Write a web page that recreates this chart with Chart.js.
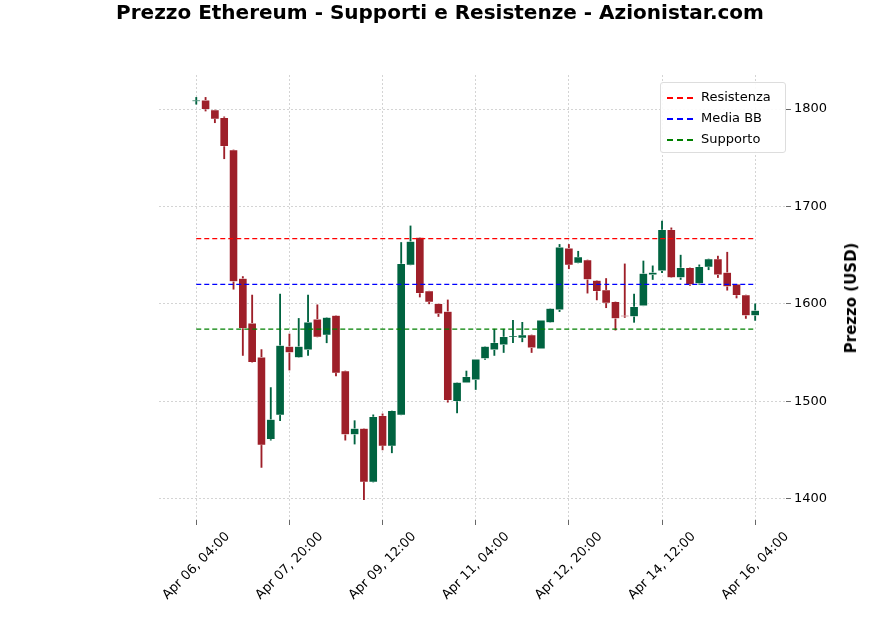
<!DOCTYPE html>
<html>
<head>
<meta charset="utf-8">
<script src="https://cdn.jsdelivr.net/npm/chart.js@4"></script>
<style>
  body { margin: 0; background: #fff; font-family: "DejaVu Sans", sans-serif; }
  #wrap { position: relative; width: 880px; height: 632px; }
  #title { position: absolute; left: 0; top: 0px; width: 880px; text-align: center; font-size: 20px; font-weight: bold; }
  #ytitle { position: absolute; left: 851px; top: 298px; transform: translate(-50%, -50%) rotate(-90deg); font-size: 15px; font-weight: bold; white-space: nowrap; }
  #legend { position: absolute; left: 660px; top: 82px; width: 124px; border: 1px solid #ddd; border-radius: 3px; background: rgba(255,255,255,0.9); padding: 3px 0; font-size: 13px; }
  #legend div { height: 21px; line-height: 21px; padding-left: 6px; }
  #legend span { display: inline-block; width: 26px; height: 0; vertical-align: middle; margin-right: 8px; }
</style>
</head>
<body>
<div id="wrap">
  <canvas id="c" width="880" height="632"></canvas>
  <div id="title">Prezzo Ethereum - Supporti e Resistenze - Azionistar.com</div>
  <div id="ytitle">Prezzo (USD)</div>
  <div id="legend">
    <div><span style="border-top:2px dashed red"></span>Resistenza</div>
    <div><span style="border-top:2px dashed blue"></span>Media BB</div>
    <div><span style="border-top:2px dashed green"></span>Supporto</div>
  </div>
</div>
<script>
// 4-hour candles, Apr 06 04:00 -> Apr 16 04:00
const opens  = [1808,1809,1799,1791,1758,1626,1580,1545,1461,1486,1556,1545,1553,1584,1568,1588,1531,1466,1472,1417,1485,1454,1486,1640,1668,1613,1600,1592,1500,1519,1522,1544,1553,1558,1566,1565,1568,1554,1581,1594,1657,1642,1645,1624,1614,1602,1588,1587,1598,1630,1634,1676,1627,1637,1621,1638,1646,1632,1620,1609,1588];
const highs  = [1812,1812,1799,1792,1758,1628,1609,1553,1514,1610,1569,1585,1609,1599,1586,1588,1531,1480,1472,1486,1487,1490,1663,1680,1668,1613,1600,1604,1519,1531,1543,1556,1574,1574,1583,1581,1568,1583,1595,1661,1661,1654,1645,1624,1626,1602,1641,1610,1644,1639,1685,1678,1650,1637,1640,1646,1649,1653,1620,1609,1600];
const lows   = [1805,1798,1786,1749,1615,1547,1540,1432,1460,1480,1532,1545,1547,1566,1560,1526,1460,1456,1399,1417,1450,1447,1486,1640,1607,1600,1587,1499,1488,1519,1512,1543,1547,1550,1560,1561,1550,1554,1581,1592,1636,1642,1611,1604,1596,1573,1586,1581,1598,1625,1632,1627,1625,1619,1620,1635,1627,1614,1606,1585,1583];
const closes = [1808,1800,1790,1762,1623,1575,1540,1455,1481,1557,1550,1556,1581,1566,1586,1529,1466,1472,1417,1484,1454,1490,1641,1664,1611,1602,1590,1501,1519,1525,1543,1556,1560,1566,1567,1568,1555,1583,1595,1658,1640,1648,1625,1613,1601,1585,1587,1597,1631,1632,1676,1627,1637,1620,1638,1646,1630,1618,1609,1588,1593];
const resistenza = 1667;
const mediaBB = 1620;
const supporto = 1574;
const tickIdx = [0, 10, 20, 30, 40, 50, 60];

const labels = opens.map((_, i) => {
    const h = 4 + i * 4;
    const day = 6 + Math.floor(h / 24);
    const hh = h % 24;
    return 'Apr ' + String(day).padStart(2, '0') + ', ' + String(hh).padStart(2, '0') + ':00';
});

const green = '#006340';
const red = '#9e1f29';
const colors = opens.map((o, i) => closes[i] >= o ? green : red);
const last = opens.length - 1;

function hline(value, color) {
    return {
        type: 'line',
        data: [{ x: 0, y: value }, { x: last, y: value }],
        borderColor: color, borderWidth: 1.3, borderDash: [5, 3],
        pointRadius: 0, order: 0
    };
}

// rotated x labels centred under each tick, like matplotlib
const xLabels = {
    id: 'xLabels',
    afterDraw(chart) {
        const ctx = chart.ctx, x = chart.scales.x, bottom = chart.chartArea.bottom;
        ctx.save();
        ctx.font = '13px "DejaVu Sans"';
        ctx.fillStyle = '#000';
        ctx.textAlign = 'center';
        ctx.textBaseline = 'middle';
        tickIdx.forEach(i => {
            ctx.save();
            ctx.translate(x.getPixelForValue(i), bottom + 46);
            ctx.rotate(-Math.PI / 4);
            ctx.fillText(labels[i], 0, 0);
            ctx.restore();
        });
        ctx.restore();
    }
};

new Chart(document.getElementById('c'), {
    type: 'bar',
    data: {
        datasets: [
            { data: opens.map((o, i) => ({ x: i, y: [lows[i], highs[i]] })), backgroundColor: colors, barThickness: 1.2, grouped: false, order: 2 },
            { data: opens.map((o, i) => ({ x: i, y: [o, o === closes[i] ? o + 1 : closes[i]] })), backgroundColor: colors, borderColor: '#fff', borderWidth: 0.5, borderSkipped: false, barThickness: 8, grouped: false, order: 1 },
            hline(resistenza, 'red'),
            hline(mediaBB, 'blue'),
            hline(supporto, 'green')
        ]
    },
    options: {
        responsive: false,
        animation: false,
        layout: { padding: { left: 159, right: 50, top: 75, bottom: 107 } },
        plugins: { legend: { display: false }, tooltip: { enabled: false } },
        scales: {
            x: {
                type: 'linear', min: -4, max: last + 3.3, offset: false,
                afterBuildTicks: axis => { axis.ticks = tickIdx.map(v => ({ value: v })); },
                grid: { offset: false, color: '#b8b8b8', lineWidth: 0.6, tickLength: 5, tickColor: '#000' },
                border: { display: false, dash: [2, 2] },
                ticks: { display: false }
            },
            y: {
                position: 'right', min: 1378, max: 1835,
                afterBuildTicks: axis => { axis.ticks = [1400, 1500, 1600, 1700, 1800].map(v => ({ value: v })); },
                grid: { color: '#b8b8b8', lineWidth: 0.6, tickLength: 5, tickColor: '#000' },
                border: { display: false, dash: [2, 2] },
                ticks: { callback: v => String(v), color: '#000', font: { family: 'DejaVu Sans', size: 13 } }
            }
        }
    },
    plugins: [xLabels]
});
</script>
</body>
</html>
